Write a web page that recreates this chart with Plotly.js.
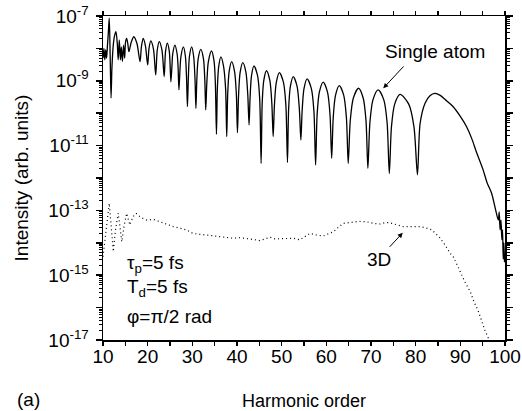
<!DOCTYPE html>
<html>
<head>
<meta charset="utf-8">
<script src="https://cdn.plot.ly/plotly-3.0.1.min.js"></script>
<style>html,body{margin:0;padding:0;background:#fff;}#plot{width:522px;height:411px;}</style>
</head>
<body>
<div id="plot"></div>
<script>
// Single atom spectrum: harmonic order and log10(intensity)
const singleX = [
10.0,10.2,10.4,10.6,10.8,11.0,11.2,11.4,11.6,11.8,12.0,12.3,12.6,12.9,13.2,13.4,13.65,13.9,14.1,14.35,14.6,14.85,15.05,15.3,15.55,15.8,
16.3,16.9,17.6,18.3,
18.6,19.0,19.5,20.0,
20.3,20.7,21.3,21.8,
22.15,22.6,23.2,23.7,
24.0,24.4,24.85,25.2,
25.45,25.6,26.1,26.6,26.8,27.0,
27.2,27.45,28.0,28.45,28.7,28.9,
29.1,29.35,29.85,30.3,30.6,30.8,
31.0,31.3,31.9,32.5,32.8,33.0,
33.25,33.6,34.3,34.85,35.15,35.4,
35.6,35.9,36.4,37.0,37.45,37.7,
37.92,38.25,38.8,39.45,39.85,40.1,
40.35,40.7,41.3,42.0,42.42,42.7,
42.92,43.25,43.8,44.6,45.08,45.4,
45.64,46.0,46.6,47.35,47.8,48.1,
48.38,48.8,49.5,50.4,50.94,51.3,
51.56,51.95,52.6,53.45,53.96,54.3,
54.58,55.0,55.7,56.65,57.22,57.6,
57.94,58.45,59.3,60.25,60.82,61.2,
61.54,62.05,62.9,63.9,64.5,64.9,
65.36,66.05,67.2,68.25,68.88,69.3,
69.76,70.45,71.6,72.85,73.6,74.1,
74.58,75.3,76.5,78.45,79.62,80.4,
81.0,82.1,83.2,84.3,85.5,86.6,88.4,90.0,91.4,92.6,93.6,95.1,96.0,97.0,97.75,98.5,98.7,98.9,99.1,99.3,99.45,99.6,99.75,99.9
];
const singleLog = [
-8.30,-8.00,-8.35,-8.05,-8.30,-7.90,-7.50,-7.07,-8.20,-9.53,-8.60,-7.90,-7.60,-7.48,-7.85,-8.35,-7.74,-8.35,-7.95,-8.40,-7.90,-8.30,-7.80,-7.69,-7.85,-8.10,
-7.82,-7.64,-7.85,-8.41,
-7.95,-7.69,-7.92,-8.51,
-8.00,-7.77,-8.02,-8.82,
-8.05,-7.79,-8.05,-8.87,
-8.10,-7.84,-8.10,-9.03,
-8.50,-8.18,-7.90,-8.18,-8.55,-9.28,
-8.75,-8.25,-7.95,-8.25,-8.90,-9.80,
-8.95,-8.25,-7.95,-8.25,-8.95,-9.85,
-9.00,-8.33,-8.03,-8.33,-9.00,-9.90,
-9.05,-8.40,-8.08,-8.38,-9.05,-10.65,
-9.25,-8.56,-8.26,-8.56,-9.25,-10.72,
-9.40,-8.71,-8.41,-8.71,-9.40,-10.60,
-9.45,-8.74,-8.44,-8.74,-9.45,-10.36,
-9.55,-8.84,-8.54,-8.84,-9.55,-11.55,
-9.70,-8.99,-8.69,-8.99,-9.70,-10.72,
-9.75,-9.05,-8.75,-9.05,-9.75,-11.52,
-9.87,-9.17,-8.87,-9.17,-9.87,-10.83,
-9.94,-9.24,-8.94,-9.24,-9.94,-11.60,
-10.04,-9.34,-9.04,-9.34,-10.04,-11.39,
-10.15,-9.45,-9.15,-9.45,-10.15,-11.55,
-10.23,-9.53,-9.23,-9.53,-10.23,-11.70,
-10.28,-9.58,-9.28,-9.58,-10.28,-11.86,
-10.42,-9.72,-9.42,-9.72,-10.42,-11.90,
-10.31,-9.69,-9.46,-9.39,-9.45,-9.58,-9.80,-10.10,-10.42,-10.80,-11.20,-11.75,-12.15,-12.47,-12.89,-13.30,-13.05,-13.60,-13.30,-13.90,-13.60,-14.50,-14.00,-14.60
];

// 3D (macroscopic) spectrum
const threeDX = [
10.0,10.5,11.0,11.4,11.9,12.3,12.8,13.4,13.8,14.2,14.7,15.3,16.0,16.7,17.4,18.5,19.8,21.3,22.8,24.2,25.7,27.2,28.7,30.0,31.0,33.2,34.7,36.2,37.7,39.2,40.7,42.2,43.7,45.1,46.2,47.4,48.5,49.6,51.0,52.6,54.1,55.2,56.3,57.8,59.3,60.5,61.6,62.7,63.8,65.5,67.2,69.0,70.5,72.0,73.1,74.2,75.7,77.2,79.0,81.0,82.3,83.6,85.4,86.5,87.7,88.5,90.0,91.0,92.2,93.0,94.0,94.8,95.5,96.3,96.6
];
const threeDLog = [
-14.43,-13.90,-13.20,-12.78,-13.60,-14.27,-13.60,-13.09,-13.50,-13.97,-13.50,-13.09,-13.45,-13.20,-13.09,-13.22,-13.30,-13.28,-13.35,-13.42,-13.50,-13.55,-13.60,-13.70,-13.73,-13.76,-13.78,-13.81,-13.83,-13.86,-13.84,-13.86,-13.90,-13.93,-13.88,-13.83,-13.88,-13.88,-13.86,-13.86,-13.91,-13.80,-13.71,-13.76,-13.79,-13.72,-13.66,-13.52,-13.40,-13.37,-13.34,-13.35,-13.40,-13.42,-13.38,-13.38,-13.45,-13.50,-13.50,-13.50,-13.54,-13.60,-13.84,-14.05,-14.32,-14.45,-14.90,-15.20,-15.50,-15.80,-16.10,-16.45,-16.70,-16.95,-17.05
];

const yDecades = [-17,-16,-15,-14,-13,-12,-11,-10,-9,-8,-7];
const yTickText = yDecades.map(d => (d % 2 !== 0) ? '10<sup>' + d + '</sup>' : '');
const xTicks = [10,20,30,40,50,60,70,80,90,100];

// minor log tick positions (2..9 in each decade)
const yMinor = [];
for (let d = -17; d < -7; d++) { for (let m = 2; m <= 9; m++) yMinor.push(m * Math.pow(10, d)); }

const FONT = 'Liberation Sans, Arial, Helvetica, sans-serif';

const traces = [
  {
    x: singleX, y: singleLog.map(v => Math.pow(10, v)),
    type: 'scatter', mode: 'lines', name: 'Single atom',
    line: {color: '#000', width: 1.3, shape: 'spline', smoothing: 0.8}
  },
  {
    x: threeDX, y: threeDLog.map(v => Math.pow(10, v)),
    type: 'scatter', mode: 'lines', name: '3D',
    line: {color: '#000', width: 1.2, dash: '1px,3px'}
  }
];

const layout = {
  width: 522, height: 411,
  margin: {l: 103, r: 17, t: 16, b: 71},
  paper_bgcolor: '#fff', plot_bgcolor: '#fff',
  showlegend: false,
  font: {family: FONT, color: '#000'},
  xaxis: {
    range: [10, 100], tickmode: 'array', tickvals: xTicks,
    showline: true, linecolor: '#000', linewidth: 1.5, mirror: 'ticks',
    ticks: 'outside', ticklen: 4, tickwidth: 1.5, tickcolor: '#000',
    minor: {tickmode: 'array', tickvals: [15,25,35,45,55,65,75,85,95], ticks: 'outside', ticklen: 4, tickwidth: 1.2, tickcolor: '#000'},
    showgrid: false, zeroline: false,
    tickfont: {family: FONT, size: 19},
    ticklabelstandoff: -5,
    title: {text: 'Harmonic order', font: {family: FONT, size: 18}, standoff: 28},
    automargin: false
  },
  yaxis: {
    type: 'log', range: [-17, -7],
    tickmode: 'array', tickvals: yDecades.map(d => Math.pow(10, d)), ticktext: yTickText,
    showline: true, linecolor: '#000', linewidth: 1.5, mirror: 'ticks',
    ticks: 'outside', ticklen: 6, tickwidth: 1.5, tickcolor: '#000',
    minor: {tickmode: 'array', tickvals: yMinor, ticks: 'outside', ticklen: 3, tickwidth: 1, tickcolor: '#000'},
    showgrid: false, zeroline: false,
    tickfont: {family: FONT, size: 19},
    ticklabelstandoff: 3,
    title: {text: 'Intensity (arb. units)', font: {family: FONT, size: 19}, standoff: 14},
    automargin: false
  },
  annotations: [
    {x: 84.3, y: -8.11, xref: 'x', yref: 'y', text: 'Single atom', showarrow: false,
     font: {family: FONT, size: 19}, xanchor: 'center', yanchor: 'middle'},
    {x: 72.75, y: -9.23, xref: 'x', yref: 'y', text: '', showarrow: true,
     ax: 21.7, ay: -23.3, arrowhead: 2, arrowsize: 1, arrowwidth: 1, arrowcolor: '#000', standoff: 0},
    {x: 71.8, y: -14.53, xref: 'x', yref: 'y', text: '3D', showarrow: false,
     font: {family: FONT, size: 19}, xanchor: 'center', yanchor: 'middle'},
    {x: 77.1, y: -13.69, xref: 'x', yref: 'y', text: '', showarrow: true,
     ax: -14.4, ay: 15.6, arrowhead: 2, arrowsize: 1, arrowwidth: 1, arrowcolor: '#000', standoff: 0},
    {x: 0.0547, y: 0.2346, xref: 'paper', yref: 'paper', text: '\u03c4<sub>p</sub>=5 fs', showarrow: false,
     font: {family: FONT, size: 19}, xanchor: 'left', yanchor: 'middle'},
    {x: 0.0547, y: 0.162, xref: 'paper', yref: 'paper', text: 'T<sub>d</sub>=5 fs', showarrow: false,
     font: {family: FONT, size: 19}, xanchor: 'left', yanchor: 'middle'},
    {x: 0.0547, y: 0.074, xref: 'paper', yref: 'paper', text: '\u03c6=\u03c0/2 rad', showarrow: false,
     font: {family: FONT, size: 19}, xanchor: 'left', yanchor: 'middle'},
    {x: -0.219, y: -0.185, xref: 'paper', yref: 'paper', text: '(a)', showarrow: false,
     font: {family: FONT, size: 19}, xanchor: 'left', yanchor: 'middle'}
  ]
};

Plotly.newPlot('plot', traces, layout, {staticPlot: true, displayModeBar: false});
</script>
</body>
</html>
